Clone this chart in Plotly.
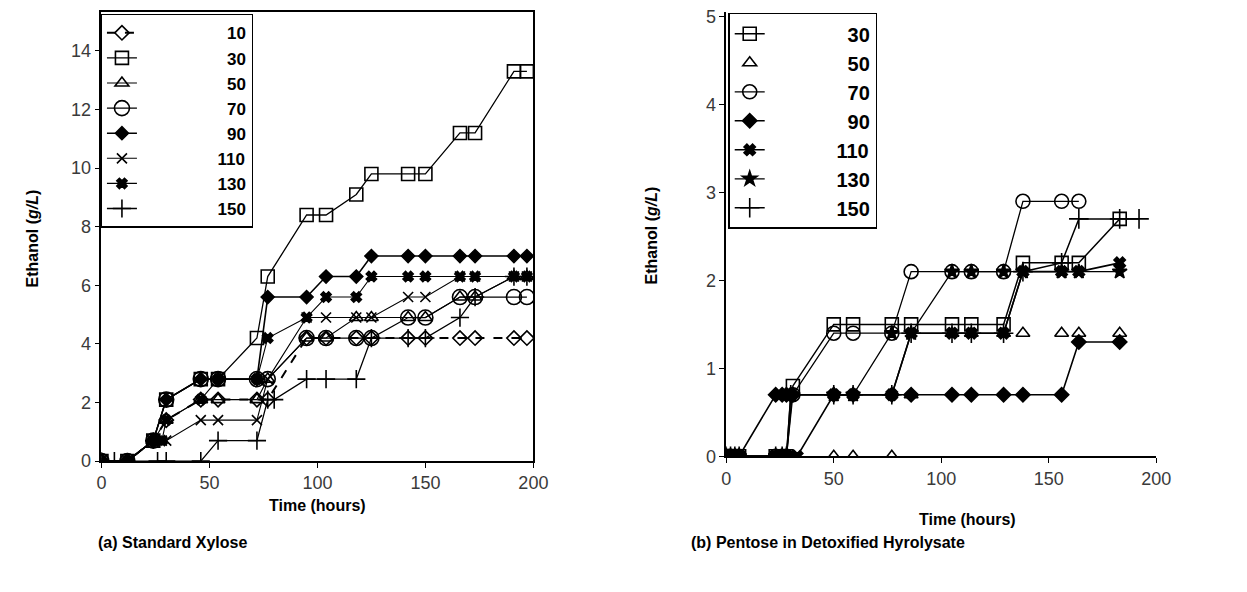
import plotly.graph_objects as go

W, H = 1247, 592

# ---------------- (a) Standard Xylose ----------------
a_10_t = [0, 12, 24, 30, 46, 54, 72, 77, 95, 104, 118, 125, 142, 150, 166, 173, 191, 197]
a_10_y = [0, 0, 0.7, 1.4, 2.1, 2.1, 2.1, 2.1, 4.2, 4.2, 4.2, 4.2, 4.2, 4.2, 4.2, 4.2, 4.2, 4.2]
a_30_t = [0, 12, 24, 30, 46, 54, 72, 77, 95, 104, 118, 125, 142, 150, 166, 173, 191, 197]
a_30_y = [0, 0, 0.7, 2.1, 2.8, 2.8, 4.2, 6.3, 8.4, 8.4, 9.1, 9.8, 9.8, 9.8, 11.2, 11.2, 13.3, 13.3]
a_50_t = [0, 12, 24, 30, 46, 54, 72, 77, 95, 104, 118, 125, 142, 150, 166, 173, 191, 197]
a_50_y = [0, 0, 0.7, 1.4, 2.1, 2.1, 2.1, 2.8, 4.2, 4.2, 4.9, 4.9, 4.9, 4.9, 5.6, 5.6, 6.3, 6.3]
a_70_t = [0, 12, 24, 30, 46, 54, 72, 77, 95, 104, 118, 125, 142, 150, 166, 173, 191, 197]
a_70_y = [0, 0, 0.7, 2.1, 2.8, 2.8, 2.8, 2.8, 4.2, 4.2, 4.2, 4.2, 4.9, 4.9, 5.6, 5.6, 5.6, 5.6]
a_90_t = [0, 12, 24, 30, 46, 54, 72, 77, 95, 104, 118, 125, 142, 150, 166, 173, 191, 197]
a_90_y = [0, 0, 0.7, 2.1, 2.8, 2.8, 2.8, 5.6, 5.6, 6.3, 6.3, 7.0, 7.0, 7.0, 7.0, 7.0, 7.0, 7.0]
a_110_t = [0, 12, 24, 28, 30, 46, 54, 72, 77, 95, 104, 118, 125, 142, 150, 166, 173, 191, 197]
a_110_y = [0, 0, 0.7, 0.7, 0.7, 1.4, 1.4, 1.4, 2.8, 4.9, 4.9, 4.9, 4.9, 5.6, 5.6, 6.3, 6.3, 6.3, 6.3]
a_130_t = [0, 12, 24, 28, 30, 46, 54, 72, 77, 95, 104, 118, 125, 142, 150, 166, 173, 191, 197]
a_130_y = [0, 0, 0.7, 0.7, 1.4, 2.1, 2.8, 2.8, 4.2, 4.9, 5.6, 5.6, 6.3, 6.3, 6.3, 6.3, 6.3, 6.3, 6.3]
a_150_t = [0, 6, 26, 30, 46, 54, 72, 77, 80, 95, 104, 118, 125, 142, 150, 166, 173, 191, 197]
a_150_y = [0, 0, 0, 0, 0, 0.7, 0.7, 2.1, 2.1, 2.8, 2.8, 2.8, 4.2, 4.2, 4.2, 4.9, 5.6, 6.3, 6.3]

# ---------------- (b) Pentose in Detoxified Hyrolysate ----------------
b_30_t = [0, 2, 4, 6, 23, 26, 28, 31, 50, 59, 77, 86, 105, 114, 129, 138, 156, 164, 183]
b_30_y = [0, 0, 0, 0, 0, 0, 0, 0.8, 1.5, 1.5, 1.5, 1.5, 1.5, 1.5, 1.5, 2.2, 2.2, 2.2, 2.7]
b_50_t = [0, 2, 4, 6, 23, 26, 28, 31, 50, 59, 77, 86, 105, 114, 129, 138, 156, 164, 183]
b_50_y = [0, 0, 0, 0, 0, 0, 0, 0, 0, 0, 0, 0.7, 1.4, 1.4, 1.4, 1.4, 1.4, 1.4, 1.4]
b_70_t = [0, 2, 4, 6, 23, 26, 28, 31, 50, 59, 77, 86, 105, 114, 129, 138, 156, 164]
b_70_y = [0, 0, 0, 0, 0, 0, 0, 0.7, 1.4, 1.4, 1.4, 2.1, 2.1, 2.1, 2.1, 2.9, 2.9, 2.9]
b_90_t = [0, 2, 4, 6, 23, 26, 28, 31, 50, 59, 77, 86, 105, 114, 129, 138, 156, 164, 183]
b_90_y = [0, 0, 0, 0, 0.7, 0.7, 0.7, 0.7, 0.7, 0.7, 0.7, 0.7, 0.7, 0.7, 0.7, 0.7, 0.7, 1.3, 1.3]
b_110_t = [0, 2, 4, 6, 23, 26, 28, 33, 50, 59, 77, 86, 105, 114, 129, 138, 156, 164, 183]
b_110_y = [0, 0, 0, 0, 0, 0, 0, 0, 0.7, 0.7, 0.7, 1.4, 1.4, 1.4, 1.4, 2.1, 2.1, 2.1, 2.2]
b_130_t = [0, 2, 4, 6, 23, 26, 28, 30, 50, 59, 77, 86, 105, 114, 129, 138, 156, 164, 183]
b_130_y = [0, 0, 0, 0, 0, 0, 0, 0.7, 0.7, 0.7, 1.4, 1.4, 2.1, 2.1, 2.1, 2.1, 2.1, 2.1, 2.1]
b_150_t = [0, 2, 4, 6, 23, 26, 28, 30, 50, 59, 77, 86, 105, 114, 129, 138, 156, 164, 183, 192]
b_150_y = [0, 0, 0, 0, 0, 0, 0, 0.7, 0.7, 0.7, 0.7, 1.4, 1.4, 1.4, 1.4, 2.1, 2.2, 2.7, 2.7, 2.7]

x_ticks = [0, 50, 100, 150, 200]
a_y_ticks = [0, 2, 4, 6, 8, 10, 12, 14]
b_y_ticks = [0, 1, 2, 3, 4, 5]

FIG_SP = "\u2007"


def lab(s, n):
    return FIG_SP * (n - len(s)) + s


K = "black"
a_series = [
    ("10", a_10_t, a_10_y, "diamond-open", 11, "dash", 2.0),
    ("30", a_30_t, a_30_y, "square-open", 13, "solid", 1.3),
    ("50", a_50_t, a_50_y, "triangle-up-open", 12, "solid", 1.1),
    ("70", a_70_t, a_70_y, "circle-open", 15, "solid", 1.3),
    ("90", a_90_t, a_90_y, "diamond", 10, "solid", 1.6),
    ("110", a_110_t, a_110_y, "x-thin-open", 10, "solid", 1.1),
    ("130", a_130_t, a_130_y, "x", 9, "solid", 1.1),
    ("150", a_150_t, a_150_y, "cross-thin-open", 13, "solid", 1.3),
]
b_series = [
    ("30", b_30_t, b_30_y, "square-open", 13, "solid", 1.5, "lines+markers"),
    ("50", b_50_t, b_50_y, "triangle-up-open", 12, "solid", 1.3, "markers"),
    ("70", b_70_t, b_70_y, "circle-open", 14, "solid", 1.3, "lines+markers"),
    ("90", b_90_t, b_90_y, "diamond", 11, "solid", 1.6, "lines+markers"),
    ("110", b_110_t, b_110_y, "x", 10, "solid", 1.6, "lines+markers"),
    ("130", b_130_t, b_130_y, "star", 11, "solid", 1.3, "lines+markers"),
    ("150", b_150_t, b_150_y, "cross-thin-open", 14, "solid", 1.5, "lines+markers"),
]

fig = go.Figure()
for name, t, y, sym, sz, dash, lw in a_series:
    fig.add_trace(go.Scatter(
        x=t, y=y, name=lab(name, 11), mode="lines+markers",
        line=dict(color=K, width=lw, dash=dash),
        marker=dict(symbol=sym, size=sz, color=K, line=dict(color=K, width=1.6)),
        xaxis="x", yaxis="y", legend="legend",
    ))
for name, t, y, sym, sz, dash, lw, mode in b_series:
    fig.add_trace(go.Scatter(
        x=t, y=y, name=lab(name, 9), mode=mode,
        line=dict(color=K, width=lw, dash=dash),
        marker=dict(symbol=sym, size=sz, color=K, line=dict(color=K, width=1.6)),
        xaxis="x2", yaxis="y2", legend="legend2",
    ))


def px_x(p):
    return p / W


def px_y(p):
    return 1 - p / H


tickfont = dict(family="Liberation Sans, Arial, sans-serif", size=18, color="#3a3a3a")
axis_common = dict(showgrid=False, zeroline=False, showline=True, linecolor=K, linewidth=1.5,
                   ticks="outside", ticklen=5, tickcolor=K, tickfont=tickfont)
legfont = dict(family="Liberation Sans Narrow, Arial Narrow, Liberation Sans", color=K, weight="bold")

fig.update_layout(
    width=W, height=H, margin=dict(l=0, r=0, t=0, b=0),
    paper_bgcolor="white", plot_bgcolor="white",
    xaxis=dict(domain=[px_x(98), px_x(537)], range=[0, 200], tickvals=x_ticks,
               mirror=True, anchor="y", **axis_common),
    yaxis=dict(domain=[px_y(468), px_y(7)], range=[0, (467 - 7) / 30], tickvals=a_y_ticks,
               mirror=True, anchor="x", **axis_common),
    xaxis2=dict(domain=[px_x(733), px_x(1170)], range=[0, 200], tickvals=x_ticks,
                anchor="y2", **axis_common),
    yaxis2=dict(domain=[px_y(463), px_y(7)], range=[0, (462 - 7) / 90], tickvals=b_y_ticks,
                anchor="x2", **axis_common),
    legend=dict(x=px_x(97), y=px_y(9), xanchor="left", yanchor="top",
                bordercolor=K, borderwidth=1.5, bgcolor="white",
                font=dict(size=17, **legfont), tracegroupgap=0, itemwidth=30),
    legend2=dict(x=px_x(735), y=px_y(8), xanchor="left", yanchor="top",
                 bordercolor=K, borderwidth=1.5, bgcolor="white",
                 font=dict(size=20, **legfont), tracegroupgap=0, itemwidth=30),
    showlegend=True,
)

title_font = dict(family="Liberation Sans, Arial, sans-serif", size=16, color=K)
ann = [
    dict(text="<b>Ethanol (<i>g/L</i>)</b>", x=px_x(28), y=px_y(240), textangle=-90, xanchor="center"),
    dict(text="<b>Time (hours)</b>", x=px_x(318), y=px_y(513), xanchor="center"),
    dict(text="<b>(a) Standard Xylose</b>", x=px_x(92), y=px_y(551), xanchor="left"),
    dict(text="<b>Ethanol (<i>g/L</i>)</b>", x=px_x(657), y=px_y(236), textangle=-90, xanchor="center"),
    dict(text="<b>Time (hours)</b>", x=px_x(978), y=px_y(528), xanchor="center"),
    dict(text="<b>(b) Pentose in Detoxified Hyrolysate</b>", x=px_x(695), y=px_y(551), xanchor="left"),
]
for a in ann:
    fig.add_annotation(xref="paper", yref="paper", showarrow=False, font=title_font,
                       yanchor="middle", **a)

fig.write_html("out.html")
